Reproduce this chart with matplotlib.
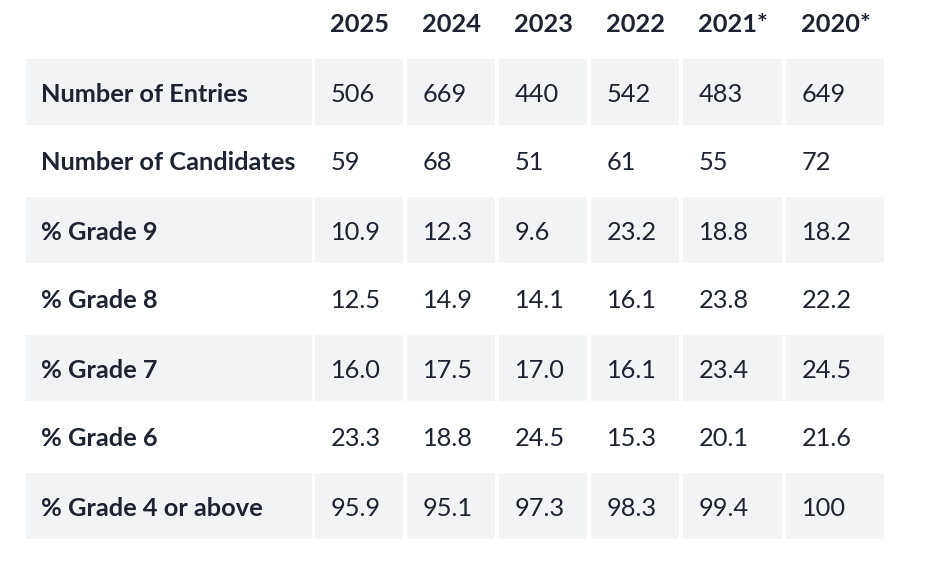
import matplotlib.pyplot as plt
from matplotlib.patches import Rectangle

plt.rcParams['font.family'] = ['Lato', 'DejaVu Sans']

years = ['2025', '2024', '2023', '2022', '2021*', '2020*']
row_labels = ['Number of Entries', 'Number of Candidates', '% Grade 9', '% Grade 8',
              '% Grade 7', '% Grade 6', '% Grade 4 or above']
entries = ['506', '669', '440', '542', '483', '649']
candidates = ['59', '68', '51', '61', '55', '72']
grade9 = ['10.9', '12.3', '9.6', '23.2', '18.8', '18.2']
grade8 = ['12.5', '14.9', '14.1', '16.1', '23.8', '22.2']
grade7 = ['16.0', '17.5', '17.0', '16.1', '23.4', '24.5']
grade6 = ['23.3', '18.8', '24.5', '15.3', '20.1', '21.6']
grade4_up = ['95.9', '95.1', '97.3', '98.3', '99.4', '100']
rows = [entries, candidates, grade9, grade8, grade7, grade6, grade4_up]

# layout in pixels
col_left = [315, 407, 499, 591, 683, 786]
col_right = [403, 495, 587, 679, 782, 884]
label_left, label_right = 26, 312
header_y = 23
row_pitch = 69
cell_h = 66
shade = '#f2f3f5'
ink = '#1d2330'
fs = 18.3
dy = 2  # text sits a touch lower than the cell middle

fig = plt.figure(figsize=(9.49, 5.62), dpi=100)
ax = fig.add_axes([0, 0, 1, 1])
ax.set_xlim(0, 949)
ax.set_ylim(562, 0)
ax.axis('off')

for j, yr in enumerate(years):
    ax.text(col_left[j] + 15, header_y + dy, yr, fontsize=fs, fontweight='bold',
            color=ink, va='center', ha='left')

for i, (lab, vals) in enumerate(zip(row_labels, rows)):
    yc = header_y + row_pitch * (i + 1)
    if i % 2 == 0:
        ax.add_patch(Rectangle((label_left, yc - cell_h / 2), label_right - label_left,
                               cell_h, color=shade, lw=0))
        for j in range(len(years)):
            ax.add_patch(Rectangle((col_left[j], yc - cell_h / 2), col_right[j] - col_left[j],
                                   cell_h, color=shade, lw=0))
    ax.text(label_left + 15, yc + dy, lab, fontsize=fs, fontweight='bold', color=ink,
            va='center', ha='left')
    for j, v in enumerate(vals):
        ax.text(col_left[j] + 16, yc + dy, v, fontsize=fs, color=ink, va='center', ha='left')

fig.savefig('out.png', dpi=100)
